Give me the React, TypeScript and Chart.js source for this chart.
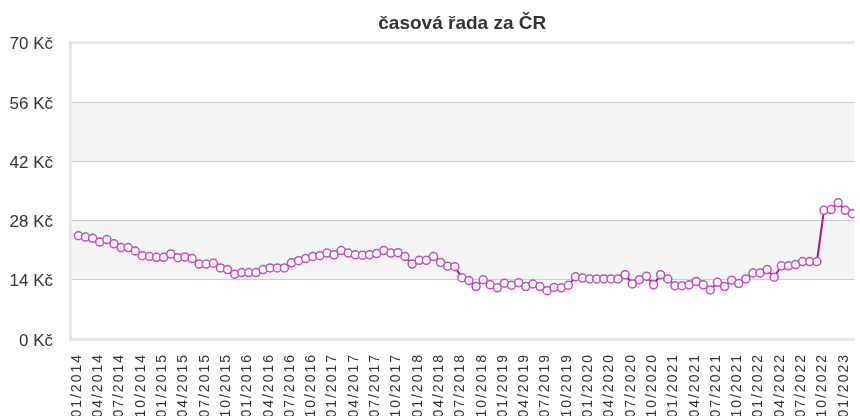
import React, { useEffect, useRef } from "react";
import { Chart, registerables } from "chart.js";

Chart.register(...registerables);

const titleText = "časová řada za ČR";

// monthly values 01/2014 – 02/2023 (Kč)
const values: number[] = [
  24.4, 24.1, 23.8, 22.9, 23.5, 22.5, 21.6, 21.6, 20.8, 19.7, 19.5, 19.3,
  19.3, 20.1, 19.2, 19.4, 19.0, 17.7, 17.7, 17.9, 16.8, 16.4, 15.3, 15.7,
  15.7, 15.7, 16.4, 16.8, 16.8, 16.8, 18.0, 18.5, 19.0, 19.5, 19.7, 20.3,
  19.9, 20.9, 20.3, 19.9, 19.8, 19.9, 20.2, 20.9, 20.3, 20.4, 19.5, 17.7,
  18.6, 18.6, 19.5, 18.1, 17.2, 17.1, 14.5, 13.8, 12.4, 14.0, 12.8, 12.1,
  13.2, 12.7, 13.3, 12.4, 13.0, 12.4, 11.4, 12.2, 12.1, 12.7, 14.7, 14.4,
  14.2, 14.2, 14.2, 14.2, 14.2, 15.2, 13.0, 14.0, 14.8, 12.8, 15.2, 14.2,
  12.6, 12.6, 12.8, 13.6, 12.8, 11.6, 13.4, 12.4, 13.9, 13.1, 14.2, 15.6,
  15.6, 16.4, 14.6, 17.3, 17.3, 17.6, 18.3, 18.3, 18.3, 30.4, 30.6, 32.2,
  30.4, 29.6,
];

// quarterly tick labels (every 3rd month)
const tickLabels: string[] = [
  "01/2014", "04/2014", "07/2014", "10/2014",
  "01/2015", "04/2015", "07/2015", "10/2015",
  "01/2016", "04/2016", "07/2016", "10/2016",
  "01/2017", "04/2017", "07/2017", "10/2017",
  "01/2018", "04/2018", "07/2018", "10/2018",
  "01/2019", "04/2019", "07/2019", "10/2019",
  "01/2020", "04/2020", "07/2020", "10/2020",
  "01/2021", "04/2021", "07/2021", "10/2021",
  "01/2022", "04/2022", "07/2022", "10/2022",
  "01/2023",
];
const tickStep = 3;

const yMin = 0;
const yMax = 70;
const yStep = 14;
const unit = " Kč";

const FONT = '"Liberation Sans", Arial, sans-serif';

const bandsPlugin = {
  id: "bands",
  beforeDraw(chart: any) {
    const y = chart.scales.y;
    const area = chart.chartArea;
    if (!y || !area) return;
    const ctx = chart.ctx;
    ctx.save();
    ctx.fillStyle = "#f5f5f5";
    const ticks = y.ticks;
    for (let i = 1; i + 1 < ticks.length; i += 2) {
      const top = y.getPixelForValue(ticks[i + 1].value);
      const bot = y.getPixelForValue(ticks[i].value);
      ctx.fillRect(area.left, top, area.right - area.left, bot - top);
    }
    ctx.restore();
    const sc: any = chart.scales.x;
    if (sc && !sc.__patched) {
      const orig = sc.drawLabels.bind(sc);
      sc.drawLabels = (a: any) => {
        const c: any = chart.ctx;
        c.save();
        c.letterSpacing = "2px";
        orig(a);
        c.restore();
      };
      sc.__patched = true;
    }
  },
};

export default function App() {
  const ref = useRef<HTMLCanvasElement | null>(null);
  useEffect(() => {
    if (!ref.current) return;
    const points = values.map((v, i) => ({ x: i, y: v }));
    const chart = new Chart(ref.current, {
      type: "line",
      data: {
        datasets: [
          {
            data: points,
            borderColor: "#a0148e",
            borderWidth: 2,
            tension: 0,
            pointRadius: 4,
            pointBorderWidth: 1.5,
            pointBorderColor: "#c44cbc",
            pointBackgroundColor: "#ffffff",
          },
        ],
      },
      options: {
        animation: false,
        responsive: true,
        maintainAspectRatio: false,
        layout: { padding: 0 },
        plugins: {
          legend: { display: false },
          tooltip: { enabled: false },
          title: {
            display: true,
            text: titleText,
            fullSize: false,
            color: "#333333",
            font: { family: FONT, size: 19, weight: "bold" },
            padding: { top: 12, bottom: 8 },
          },
        },
        scales: {
          x: {
            type: "linear",
            min: -1.19,
            max: 109.3,
            grid: { display: false, drawTicks: false },
            border: { display: true, color: "#e6e6e6", width: 3 },
            afterBuildTicks: (scale: any) => {
              scale.ticks = tickLabels.map((_, i) => ({ value: i * tickStep }));
            },
            afterFit: (scale: any) => {
              scale.height = 77;
              scale.paddingLeft = 0;
              scale.paddingRight = 0;
            },
            ticks: {
              autoSkip: false,
              minRotation: 90,
              maxRotation: 90,
              padding: 14,
              labelOffset: -1.5,
              color: "#333333",
              font: { family: FONT, size: 14 },
              callback: (v: any) => tickLabels[Math.round(Number(v) / tickStep)] ?? "",
            },
          },
          y: {
            min: yMin,
            max: yMax,
            grid: {
              drawTicks: false,
              color: (c: any) =>
                c.tick && (c.tick.value === yMin || c.tick.value === yMax) ? "#e6e6e6" : "#cccccc",
              lineWidth: (c: any) =>
                c.tick && (c.tick.value === yMin || c.tick.value === yMax) ? 3 : 1,
            },
            border: { display: true, color: "#e6e6e6", width: 3 },
            afterFit: (scale: any) => {
              scale.width = 70;
            },
            ticks: {
              stepSize: yStep,
              padding: 17,
              labelOffset: 2,
              color: "#333333",
              font: { family: FONT, size: 17 },
              callback: (v: any) => v + unit,
            },
          },
        },
      },
      plugins: [bandsPlugin],
    } as any);
    return () => chart.destroy();
  }, []);
  return (
    <div style={{ position: "absolute", left: 0, top: 0, width: 860, height: 416 }}>
      <canvas ref={ref} />
    </div>
  );
}
